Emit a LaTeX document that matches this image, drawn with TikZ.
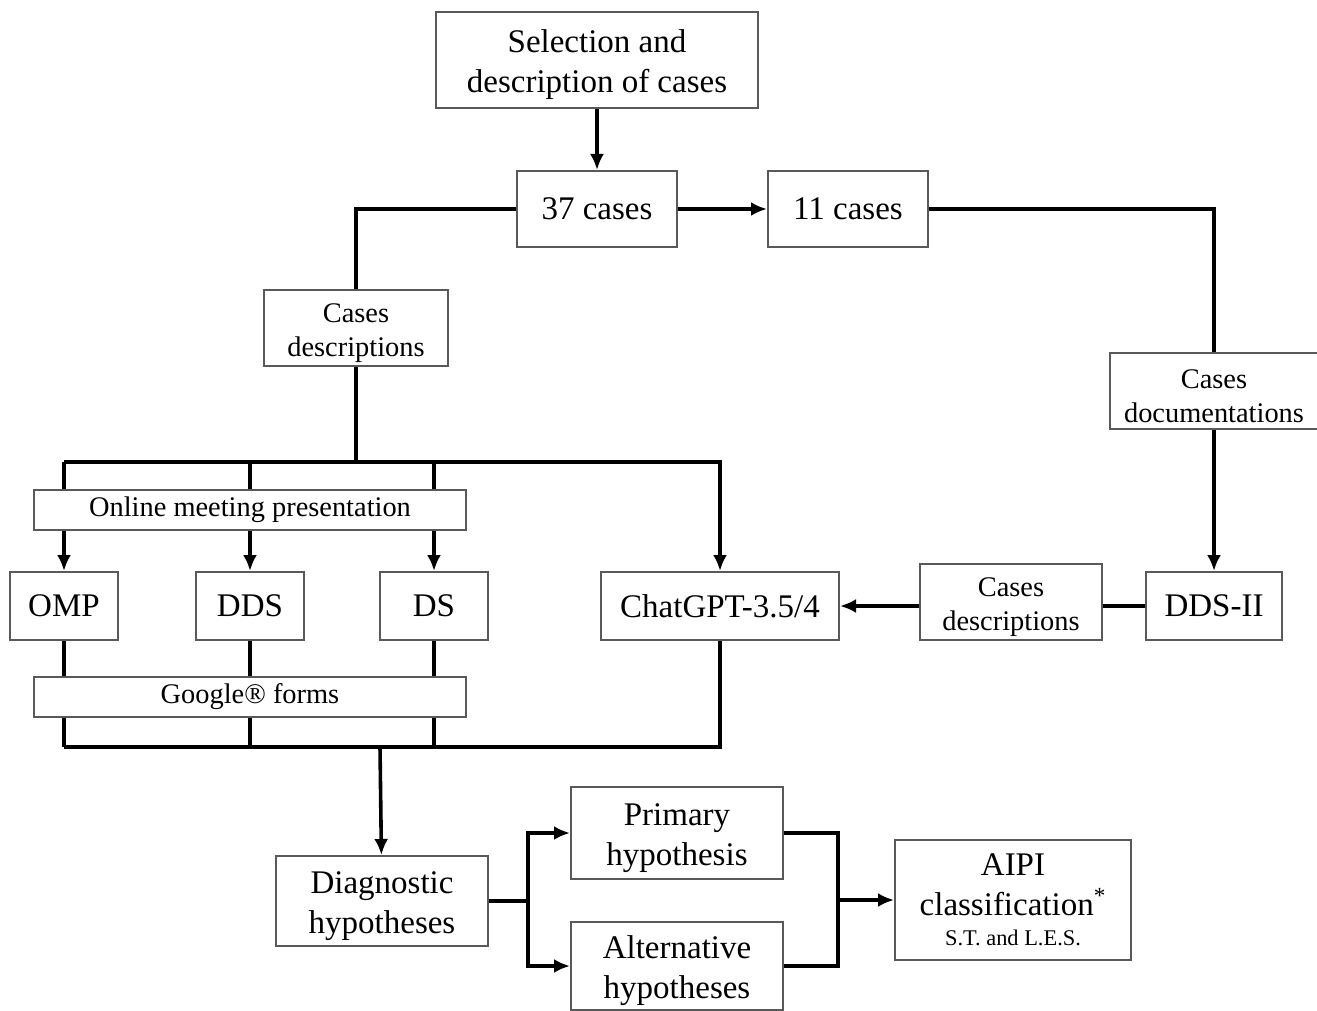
\documentclass[tikz,border=0pt]{standalone}
\usepackage{fontspec}
\setmainfont{Liberation Serif}
\usetikzlibrary{arrows.meta}
\newcommand{\bigtxt}{\fontsize{16.5}{20}\selectfont}
\newcommand{\midtxt}{\fontsize{14.2}{17}\selectfont}
\newcommand{\lift}{\rule{0pt}{\dimexpr0.69em+5pt\relax}}
\begin{document}
\begin{tikzpicture}[x=0.5pt, y=-0.5pt,
  box/.style={draw=black!65, line width=1pt, inner sep=0pt, align=center, font=\bigtxt},
  sbox/.style={box, font=\midtxt},
  conn/.style={line width=1.8pt},
  arr/.style={conn, -{Latex[length=8pt,width=7pt]}}]
\useasboundingbox (0,0) rectangle (1317,1011);
\node[box, minimum width=161pt, minimum height=48pt] (sel) at (597,60){\lift Selection and\\description of cases};
\node[box, minimum width=80pt, minimum height=38pt] (c37) at (597,209){37 cases};
\node[box, minimum width=80pt, minimum height=38pt] (c11) at (848,209){11 cases};
\draw[arr](sel) -- (c37);
\draw[arr](c37) -- (c11);
\node[sbox, minimum width=92pt, minimum height=38pt] (desc1) at (356,328){\lift Cases\\descriptions};
\node[sbox, minimum width=104pt, minimum height=38pt] (doc) at (1214,391){\lift Cases\\documentations};
\draw[conn](c37.west) -| (desc1.north);
\draw[conn](c11.east) -| (doc.north);
\node[sbox, minimum width=216pt, minimum height=20pt] (meet) at (250,510){Online meeting presentation};
\node[box, minimum width=54pt, minimum height=34pt] (omp) at (64,606){OMP};
\node[box, minimum width=54pt, minimum height=34pt] (dds) at (250,606){DDS};
\node[box, minimum width=54pt, minimum height=34pt] (ds) at (434,606){DS};
\node[box, minimum width=119pt, minimum height=34pt] (chat) at (720,606){ChatGPT-3.5/4};
\node[sbox, minimum width=91pt, minimum height=38pt] (desc2) at (1011,602){\lift Cases\\descriptions};
\node[box, minimum width=68pt, minimum height=34pt] (ddsii) at (1214,606){DDS-II};
\node[sbox, minimum width=216pt, minimum height=20pt] (google) at (250,697){Google\textregistered{} forms};
\draw[arr](doc) -- (ddsii);
\draw[conn](ddsii.west) -- (ddsii.west -| desc2.east);
\draw[arr](desc2.west |- chat) -- (chat.east);
\coordinate (top) at (356,462);
\coordinate (bot) at (380,747);
\draw[conn](desc1) -- (top);
\draw[arr](omp |- top) -- (top -| chat) -- (chat);
\foreach \n in {omp,dds,ds}{
  \draw[conn](\n |- top) -- (\n |- meet.north);
  \draw[arr](\n |- meet.south) -- (\n);
  \draw[conn](\n) -- (\n |- google.north);
  \draw[conn](\n |- google.south) -- (\n |- bot);
}
\draw[conn](omp |- bot) -- (bot -| chat) -- (chat);
\node[box, minimum width=106pt, minimum height=45pt] (diag) at (382,901){\lift Diagnostic\\hypotheses};
\node[box, minimum width=106pt, minimum height=46pt] (prim) at (677,833){\lift Primary\\hypothesis};
\node[box, minimum width=106pt, minimum height=44pt] (alt) at (677,966){\lift Alternative\\hypotheses};
\node[box, minimum width=118pt, minimum height=60pt] (aipi) at (1013,900){AIPI\\classification\textsuperscript{*}\\[-5pt]{\fontsize{11.2}{13}\selectfont S.T. and L.E.S.}};
\draw[arr](bot) -- (diag);
\coordinate (split) at (528,901);
\coordinate (merge) at (838,900);
\draw[conn](diag) -- (split);
\draw[arr](split) |- (prim);
\draw[arr](split) |- (alt);
\draw[conn](prim) -| (merge);
\draw[conn](alt) -| (merge);
\draw[arr](merge) -- (aipi);
\end{tikzpicture}
\end{document}
